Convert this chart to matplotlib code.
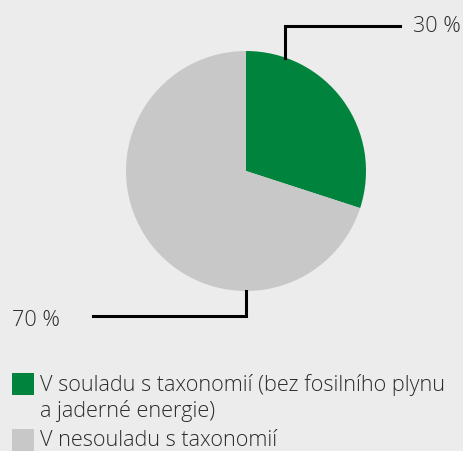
import matplotlib
matplotlib.use("Agg")
import matplotlib.pyplot as plt
from matplotlib.patches import Rectangle

categories = ["V souladu s taxonomií (bez fosilního plynu\na jaderné energie)", "V nesouladu s taxonomií"]
values = [30, 70]
labels = ["30 %", "70 %"]
colors = ["#00833c", "#c8c8c8"]
bg = "#ececec"
txt = "#2b2b2b"

W, H = 464, 452
fig = plt.figure(figsize=(W / 100, H / 100), dpi=100, facecolor=bg)
ax = fig.add_axes([0, 0, 1, 1])
ax.set_facecolor(bg)

cx, cy, r = 246, H - 172, 120
ax.pie(values, colors=colors, startangle=90, counterclock=False,
       center=(cx, cy), radius=r, frame=True, wedgeprops=dict(linewidth=0))
ax.set_xlim(0, W)
ax.set_ylim(0, H)
ax.set_aspect("equal")
ax.axis("off")

font = dict(family="Open Sans", fontweight="light", color=txt, fontsize=15.6)

# leader line for 30 %
x0 = 285
y_edge = cy + (r**2 - (x0 - cx) ** 2) ** 0.5
ax.plot([x0, x0, 400], [y_edge, H - 27, H - 27], color="black", lw=2.2, solid_joinstyle="miter")
ax.text(413, H - 27, labels[0], va="center", ha="left", **font)
# leader line for 70 %
ax.plot([cx, cx, 93], [cy - r, H - 317, H - 317], color="black", lw=2.2, solid_joinstyle="miter")
ax.text(12, H - 320, labels[1], va="center", ha="left", **font)

# legend
ly = [H - 385, H - 441]
for i, col in enumerate(colors):
    ax.add_patch(Rectangle((12, ly[i] - 11), 22, 22, color=col, lw=0))
line1, line2 = categories[0].split("\n")
ax.text(40, ly[0], line1, va="center", ha="left", **font)
ax.text(40, H - 411, line2, va="center", ha="left", **font)
ax.text(40, ly[1], categories[1], va="center", ha="left", **font)

fig.savefig("out.png", dpi=100, facecolor=bg)
